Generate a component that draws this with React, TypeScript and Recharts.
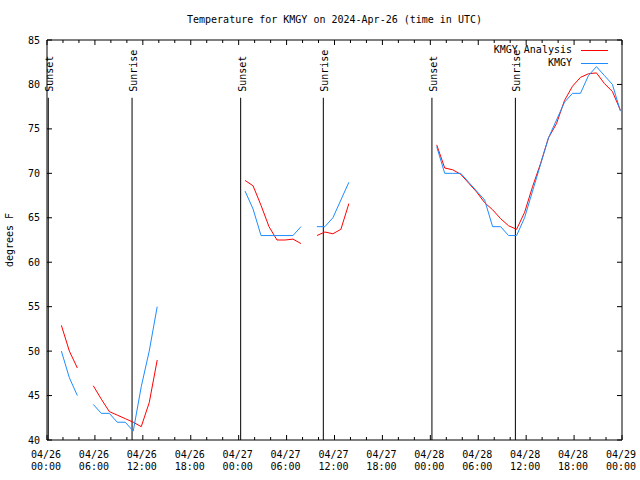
import { LineChart, Line, XAxis, YAxis, ReferenceLine, Legend } from 'recharts';

// observation times, hours since 04/26 00:00 UTC (null rows break the lines)
const hours = [
  1.8, 2.8, 3.8, 4.8,
  5.8, 6.8, 7.8, 8.8, 9.8, 10.8, 11.8, 12.8, 13.8, 14.8,
  24.8, 25.8, 26.8, 27.8, 28.8, 29.8, 30.8, 31.8, 32.8,
  33.8, 34.8, 35.8, 36.8, 37.8, 38.8,
  48.8, 49.8, 50.8, 51.8, 52.8, 53.8, 54.8, 55.8, 56.8, 57.8, 58.8, 59.8,
  60.8, 61.8, 62.8, 63.8, 64.8, 65.8, 66.8, 67.8, 68.8, 69.8, 70.8, 71.8,
];

const kmgy = [
  50, 47, 45, null,
  44, 43, 43, 42, 42, 41, 46, 50, 55, null,
  68, 66, 63, 63, 63, 63, 63, 64, null,
  64, 64, 65, 67, 69, null,
  73, 70, 70, 70, 69, 68, 67, 64, 64, 63, 63, 65,
  68, 71, 74, 76, 78, 79, 79, 81, 82, 81, 80, 77,
];

const analysis = [
  52.9, 50.0, 48.1, null,
  46.1, 44.6, 43.2, 42.8, 42.4, 42.0, 41.5, 44.2, 49.0, null,
  69.2, 68.6, 66.4, 64.0, 62.5, 62.5, 62.6, 62.1, null,
  63.0, 63.4, 63.2, 63.7, 66.6, null,
  73.2, 70.6, 70.4, 69.9, 68.9, 67.9, 66.7, 65.9, 64.9, 64.1, 63.7, 65.6,
  68.5, 71.1, 74.0, 75.6, 78.2, 79.8, 80.8, 81.2, 81.3, 80.1, 79.2, 77.1,
];

const sunNames = ['Sunset', 'Sunrise', 'Sunset', 'Sunrise', 'Sunset', 'Sunrise'];
const sunHours = [0.16, 10.65, 24.25, 34.6, 48.2, 58.65];

const dateLabels = ['04/26', '04/26', '04/26', '04/26', '04/27', '04/27', '04/27', '04/27', '04/28', '04/28', '04/28', '04/28', '04/29'];
const timeLabels = ['00:00', '06:00', '12:00', '18:00', '00:00', '06:00', '12:00', '18:00', '00:00', '06:00', '12:00', '18:00', '00:00'];
const yTicks = [40, 45, 50, 55, 60, 65, 70, 75, 80, 85];
const xTicks = Array.from({ length: 37 }, (_, i) => i * 2);

const FONT = '"DejaVu Sans Mono", monospace';
const RED = '#ff0000';
const BLUE = '#1e8cff';

const legendItems = [
  { name: 'KMGY Analysis', color: RED },
  { name: 'KMGY', color: BLUE },
];

const data = hours.map((h, i) => ({ hour: h, analysis: analysis[i], kmgy: kmgy[i] }));

function BottomTick({ x, y, payload }: any) {
  const v = payload.value;
  const major = v % 6 === 0;
  return (
    <g>
      <line x1={x} y1={y} x2={x} y2={y - (major ? 5 : 3)} stroke="#000" />
      {major && (
        <text x={x - 1} textAnchor="middle" fontFamily={FONT} fontSize={10} fill="#000">
          <tspan x={x - 1} y={y + 18}>{dateLabels[v / 6]}</tspan>
          <tspan x={x - 1} y={y + 30}>{timeLabels[v / 6]}</tspan>
        </text>
      )}
    </g>
  );
}

function TopTick({ x, y, payload }: any) {
  const major = payload.value % 6 === 0;
  return <line x1={x} y1={y} x2={x} y2={y + (major ? 5 : 3)} stroke="#000" />;
}

function LeftTick({ x, y, payload }: any) {
  return (
    <g>
      <line x1={x} y1={y} x2={x + 5} y2={y} stroke="#000" />
      <text x={x - 7} y={y + 3.5} textAnchor="end" fontFamily={FONT} fontSize={10} fill="#000">
        {payload.value}
      </text>
    </g>
  );
}

function RightTick({ x, y }: any) {
  return <line x1={x} y1={y} x2={x - 5} y2={y} stroke="#000" />;
}

function sunLabel(text: string) {
  return (props: any) => {
    const vb = props.viewBox || {};
    const tx = vb.x + 5;
    const ty = vb.y - 6;
    return (
      <text x={tx} y={ty} transform={`rotate(-90 ${tx} ${ty})`} fontFamily={FONT} fontSize={10} fill="#000">
        {text}
      </text>
    );
  };
}

function LegendBox() {
  return (
    <div style={{ fontFamily: FONT, fontSize: 10, color: '#000' }}>
      {legendItems.map((p) => (
        <div key={p.name} style={{ display: 'flex', justifyContent: 'flex-end', alignItems: 'center', height: 12.5 }}>
          <span style={{ lineHeight: '12px' }}>{p.name}</span>
          <svg width={36} height={12}>
            <line x1={9} y1={6.5} x2={36} y2={6.5} stroke={p.color} />
          </svg>
        </div>
      ))}
    </div>
  );
}

export default function App() {
  return (
    <div style={{ position: 'absolute', left: 0, top: 0, width: 640, height: 480, background: '#fff' }}>
      <div
        style={{
          position: 'absolute',
          top: 14,
          left: 47,
          width: 575,
          textAlign: 'center',
          fontFamily: FONT,
          fontSize: 10,
          lineHeight: '12px',
        }}
      >
        Temperature for KMGY on 2024-Apr-26 (time in UTC)
      </div>
      <LineChart width={640} height={480} data={data} margin={{ top: 39, right: 17, bottom: 0, left: 7 }}>
        <XAxis
          dataKey="hour"
          type="number"
          domain={[0, 72]}
          ticks={xTicks}
          interval={0}
          allowDataOverflow
          height={40}
          tickSize={0}
          tickMargin={0}
          tickLine={false}
          axisLine={{ stroke: '#000' }}
          tick={<BottomTick />}
        />
        <XAxis
          xAxisId="top"
          orientation="top"
          dataKey="hour"
          type="number"
          domain={[0, 72]}
          ticks={xTicks}
          interval={0}
          allowDataOverflow
          height={1}
          tickSize={0}
          tickMargin={0}
          tickLine={false}
          axisLine={{ stroke: '#000' }}
          tick={<TopTick />}
        />
        <YAxis
          type="number"
          domain={[40, 85]}
          ticks={yTicks}
          interval={0}
          allowDataOverflow
          width={40}
          tickSize={0}
          tickMargin={0}
          tickLine={false}
          axisLine={{ stroke: '#000' }}
          tick={<LeftTick />}
          label={{
            content: () => (
              <text x={13} y={240} transform="rotate(-90 13 240)" textAnchor="middle" fontFamily={FONT} fontSize={10} fill="#000">
                degrees F
              </text>
            ),
          }}
        />
        <YAxis
          yAxisId="right"
          orientation="right"
          type="number"
          domain={[40, 85]}
          ticks={yTicks}
          interval={0}
          allowDataOverflow
          width={1}
          tickSize={0}
          tickMargin={0}
          tickLine={false}
          axisLine={{ stroke: '#000' }}
          tick={<RightTick />}
        />
        {sunHours.map((h, i) => (
          <ReferenceLine
            key={i}
            segment={[{ x: h, y: 78.5 }, { x: h, y: 40 }]}
            stroke="#000"
            strokeWidth={1}
            label={sunLabel(sunNames[i])}
          />
        ))}
        <Legend
          layout="horizontal"
          verticalAlign="middle"
          align="center"
          wrapperStyle={{ left: 440, top: 44, width: 168 }}
          content={<LegendBox />}
        />
        <Line
          name="KMGY Analysis"
          dataKey="analysis"
          stroke={RED}
          strokeWidth={1}
          dot={false}
          activeDot={false}
          isAnimationActive={false}
        />
        <Line
          name="KMGY"
          dataKey="kmgy"
          stroke={BLUE}
          strokeWidth={1}
          dot={false}
          activeDot={false}
          isAnimationActive={false}
        />
        <Line
          xAxisId="top"
          yAxisId="right"
          dataKey="kmgy"
          stroke="none"
          dot={false}
          activeDot={false}
          legendType="none"
          isAnimationActive={false}
        />
      </LineChart>
    </div>
  );
}
